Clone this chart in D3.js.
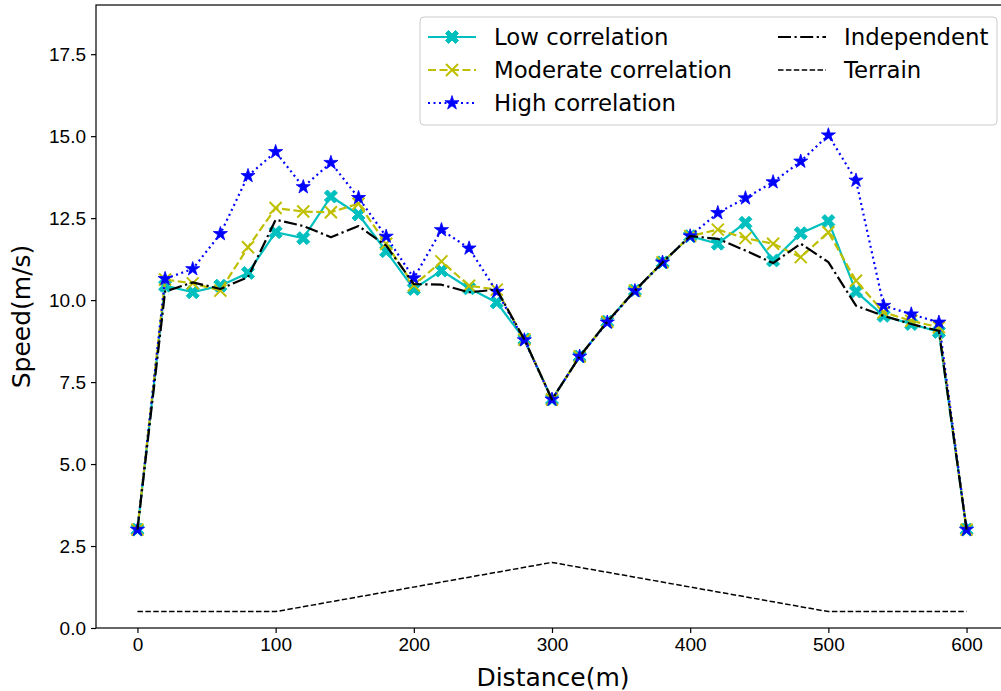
<!DOCTYPE html>
<html>
<head>
<meta charset="utf-8">
<script src="https://cdnjs.cloudflare.com/ajax/libs/d3/7.8.5/d3.min.js"></script>
<style>
  body { margin: 0; background: #fff; }
  svg { display: block; font-family: "DejaVu Sans", sans-serif; }
  .tick text { font-size: 19px; fill: #000; }
  .tick line { stroke: #000; stroke-width: 1.2; }
</style>
</head>
<body>
<svg id="chart" width="1001" height="691"></svg>
<script>
var distance = [0, 20, 40, 60, 80, 100, 120, 140, 160, 180, 200, 220, 240, 260, 280, 300,
    320, 340, 360, 380, 400, 420, 440, 460, 480, 500, 520, 540, 560, 580, 600];

var lowCorr = [3.0, 10.44, 10.24, 10.44, 10.83, 12.07, 11.89, 13.16, 12.61, 11.49, 10.34,
    10.90, 10.36, 9.93, 8.80, 6.97, 8.28, 9.34, 10.29, 11.15, 11.95,
    11.72, 12.36, 11.21, 12.04, 12.41, 10.26, 9.52, 9.27, 9.03, 3.0];
var moderateCorr = [3.0, 10.63, 10.51, 10.29, 11.61, 12.81, 12.70, 12.68, 12.94, 11.72, 10.45,
    11.18, 10.44, 10.32, 8.80, 6.97, 8.28, 9.34, 10.29, 11.15, 11.95,
    12.15, 11.89, 11.72, 11.31, 12.07, 10.59, 9.63, 9.37, 9.17, 3.0];
var highCorr = [3.0, 10.65, 10.95, 12.02, 13.79, 14.52, 13.45, 14.19, 13.12, 11.94, 10.67,
    12.14, 11.58, 10.26, 8.78, 6.97, 8.28, 9.32, 10.28, 11.15, 11.95,
    12.66, 13.11, 13.60, 14.23, 15.03, 13.65, 9.83, 9.57, 9.32, 3.0];
var independent = [3.0, 10.26, 10.54, 10.34, 10.70, 12.45, 12.26, 11.92, 12.26, 11.66, 10.49,
    10.47, 10.24, 10.32, 8.80, 6.97, 8.28, 9.34, 10.29, 11.15, 11.95,
    11.87, 11.51, 11.13, 11.72, 11.16, 9.83, 9.52, 9.27, 9.06, 3.0];

var terrainX = [0, 100, 300, 500, 600];
var terrainY = [0.5, 0.5, 2.0, 0.5, 0.5];

var xTicks = [0, 100, 200, 300, 400, 500, 600];
var yTicks = [0, 2.5, 5, 7.5, 10, 12.5, 15, 17.5];

var seriesNames = ['Low correlation', 'Moderate correlation', 'High correlation', 'Independent', 'Terrain'];

var svg = d3.select('#chart');
var margin = {left: 96, top: 5, right: 1008, bottom: 628};

var x = d3.scaleLinear().domain([-30, 630]).range([margin.left, margin.right]);
var y = d3.scaleLinear().domain([0, 19]).range([margin.bottom, margin.top]);

// marker shapes
function markerX(g, c) {
    // filled "X" (plus rotated 45deg)
    var a = 6.5, b = 3;
    var pts = [[0, -b], [a - b, -a], [a, -a + b], [b, 0], [a, a - b], [a - b, a],
        [0, b], [-a + b, a], [-a, a - b], [-b, 0], [-a, -a + b], [-a + b, -a]];
    g.append('polygon').attr('points', pts.map(function(p) { return p.join(','); }).join(' '))
        .attr('fill', c).attr('stroke', c).attr('stroke-width', 1).attr('stroke-linejoin', 'round');
}
function markerCross(g, c) {
    var s = 6;
    g.append('path').attr('d', 'M' + (-s) + ',' + (-s) + 'L' + s + ',' + s + 'M' + (-s) + ',' + s + 'L' + s + ',' + (-s))
        .attr('stroke', c).attr('stroke-width', 2).attr('fill', 'none');
}
function markerStar(g, c) {
    g.append('path').attr('d', d3.symbol().type(d3.symbolStar).size(62)())
        .attr('fill', c).attr('stroke', c).attr('stroke-width', 0.8);
}

var series = [
    {name: seriesNames[0], xs: distance, ys: lowCorr, color: '#00bfbf', dash: null, width: 2.2, marker: markerX},
    {name: seriesNames[1], xs: distance, ys: moderateCorr, color: '#bfbf00', dash: '8,3.5', width: 2.2, marker: markerCross},
    {name: seriesNames[2], xs: distance, ys: highCorr, color: '#0000ff', dash: '2,3.5', width: 2.2, marker: markerStar},
    {name: seriesNames[3], xs: distance, ys: independent, color: '#000000', dash: '13,3.5,2.2,3.5', width: 2.2, marker: null},
    {name: seriesNames[4], xs: terrainX, ys: terrainY, color: '#000000', dash: '5.5,2.4', width: 1.5, marker: null}
];

var plot = svg.append('g').attr('class', 'plot');
var line = d3.line().x(function(d) { return x(d[0]); }).y(function(d) { return y(d[1]); });

series.forEach(function(s) {
    var pts = s.xs.map(function(v, i) { return [v, s.ys[i]]; });
    plot.append('path').datum(pts).attr('d', line)
        .attr('fill', 'none').attr('stroke', s.color).attr('stroke-width', s.width)
        .attr('stroke-dasharray', s.dash).attr('stroke-linejoin', 'round');
    if (s.marker) {
        pts.forEach(function(p) {
            var g = plot.append('g').attr('transform', 'translate(' + x(p[0]) + ',' + y(p[1]) + ')');
            s.marker(g, s.color);
        });
    }
});

// axes
svg.append('g').attr('transform', 'translate(0,' + margin.bottom + ')')
    .call(d3.axisBottom(x).tickValues(xTicks).tickSize(5).tickPadding(5).tickFormat(d3.format('d')))
    .call(function(g) { g.select('.domain').remove(); });
svg.append('g').attr('transform', 'translate(' + margin.left + ',0)')
    .call(d3.axisLeft(y).tickValues(yTicks).tickSize(5).tickPadding(5).tickFormat(d3.format('.1f')))
    .call(function(g) { g.select('.domain').remove(); });

svg.append('rect').attr('x', margin.left).attr('y', margin.top)
    .attr('width', margin.right - margin.left).attr('height', margin.bottom - margin.top)
    .attr('fill', 'none').attr('stroke', '#000').attr('stroke-width', 1.2);

svg.append('text').attr('x', 553).attr('y', 686)
    .attr('text-anchor', 'middle').attr('font-size', 25).text('Distance(m)');
svg.append('text').attr('transform', 'translate(30,' + ((margin.top + margin.bottom) / 2) + ') rotate(-90)')
    .attr('text-anchor', 'middle').attr('font-size', 25).text('Speed(m/s)');

// legend
var legend = svg.append('g').attr('class', 'legend');
legend.append('rect').attr('x', 420).attr('y', 17).attr('width', 577).attr('height', 108)
    .attr('rx', 4).attr('fill', '#fff').attr('fill-opacity', 0.8).attr('stroke', '#ccc').attr('stroke-width', 1);

var legendPos = [[428, 37], [428, 70], [428, 103], [778, 37], [778, 70]];
series.forEach(function(s, i) {
    var lx = legendPos[i][0], ly = legendPos[i][1];
    legend.append('line').attr('x1', lx).attr('x2', lx + 48).attr('y1', ly).attr('y2', ly)
        .attr('stroke', s.color).attr('stroke-width', s.width).attr('stroke-dasharray', s.dash);
    if (s.marker) {
        s.marker(legend.append('g').attr('transform', 'translate(' + (lx + 24) + ',' + ly + ')'), s.color);
    }
    legend.append('text').attr('x', lx + 66).attr('y', ly).attr('dy', '0.35em')
        .attr('font-size', 22.8).text(s.name);
});
</script>
</body>
</html>
